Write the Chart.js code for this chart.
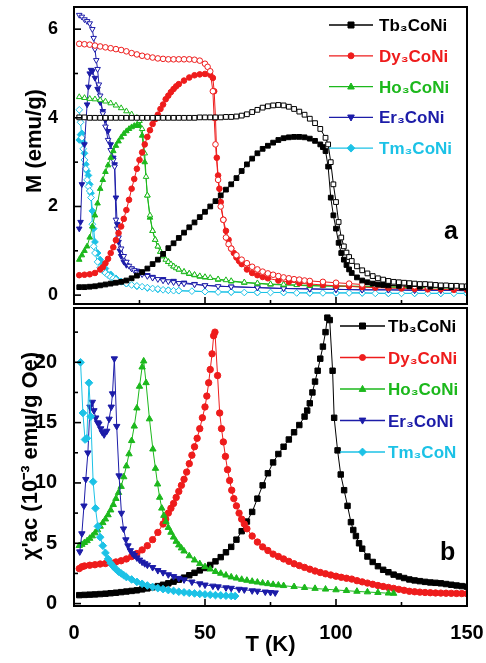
<!DOCTYPE html>
<html><head><meta charset="utf-8">
<script src="https://cdn.jsdelivr.net/npm/chart.js"></script>
<style>
html,body{margin:0;padding:0;background:#fff;}
#wrap{position:relative;width:486px;height:663px;}
#c1{position:absolute;left:0;top:0;}
#c2{position:absolute;left:0;top:300px;}
</style></head><body>
<div id="wrap"><canvas id="c1" width="486" height="310"></canvas><canvas id="c2" width="486" height="363"></canvas></div>
<script>
// ---------- DATA (T in K, value) ----------
const compounds = ['Tb₃CoNi','Dy₃CoNi','Ho₃CoNi','Er₃CoNi','Tm₃CoNi'];
const compoundsB = ['Tb₃CoNi','Dy₃CoNi','Ho₃CoNi','Er₃CoNi','Tm₃CoN'];
const xMajorTicks = [0,50,100,150];
const xMinorTicks = [25,75,125];
const yTicksM = [0,2,4,6];
const yMinorM = [1,3,5];
const yTicksChi = [0,5,10,15,20];
const yMinorChi = [2.5,7.5,12.5,17.5,22.5];

// panel a: M(T), ZFC (filled) and FC (open)
const tbZfc = [[2,0.18],[4,0.18],[6,0.19],[8,0.2],[10,0.22],[12,0.24],[14,0.26],[16,0.28],[18,0.3],[20,0.33],[22,0.38],[24,0.44],[26,0.52],[28,0.6],[30,0.7],[32,0.8],[34,0.93],[36,1.06],[38,1.17],[40,1.29],[42,1.41],[44,1.53],[46,1.64],[48,1.76],[50,1.88],[52,2.0],[54,2.12],[56,2.25],[58,2.38],[60,2.5],[62,2.64],[64,2.8],[66,2.95],[68,3.08],[70,3.2],[72,3.3],[74,3.37],[76,3.44],[78,3.5],[80,3.54],[82,3.56],[84,3.57],[86,3.57],[88,3.56],[90,3.53],[92,3.48],[94,3.4],[95,3.34],[96,3.25],[97,2.9],[98,2.2],[99,1.8],[100,1.5],[101,1.18],[102,0.95],[103,0.8],[104,0.68],[105,0.58],[106,0.5],[108,0.4],[110,0.33],[112,0.29],[114,0.26],[116,0.24],[118,0.23],[120,0.22],[124,0.21],[128,0.2],[132,0.19],[136,0.19],[140,0.18],[144,0.18],[148,0.17],[150,0.17]];
const tbFc = [[2,4.01],[4,4.01],[6,4.0],[8,4.0],[10,4.0],[12,4.0],[14,4.0],[16,4.0],[18,4.0],[20,4.0],[22,4.0],[24,4.0],[26,4.0],[28,4.0],[30,4.0],[32,4.0],[34,4.0],[36,4.0],[38,4.0],[40,4.0],[42,4.0],[44,4.0],[46,4.0],[48,4.01],[50,4.01],[52,4.01],[54,4.01],[56,4.01],[58,4.02],[60,4.02],[62,4.03],[64,4.05],[66,4.08],[68,4.13],[70,4.18],[72,4.23],[74,4.26],[76,4.28],[78,4.29],[80,4.28],[82,4.25],[84,4.2],[86,4.14],[88,4.07],[90,3.98],[92,3.88],[94,3.75],[96,3.55],[97,3.4],[98,3.0],[99,2.5],[100,2.1],[101,1.65],[102,1.3],[103,1.1],[104,0.96],[105,0.86],[106,0.77],[108,0.65],[110,0.56],[112,0.49],[114,0.43],[116,0.38],[118,0.35],[120,0.32],[122,0.3],[124,0.29],[126,0.28],[128,0.27],[130,0.26],[132,0.25],[134,0.25],[136,0.24],[138,0.23],[140,0.22],[142,0.22],[144,0.21],[146,0.21],[148,0.2],[150,0.2]];
const dyZfc = [[2,0.45],[4,0.46],[6,0.47],[8,0.5],[10,0.58],[11,0.63],[12,0.72],[13,0.82],[14,0.95],[15,1.08],[16,1.24],[17,1.4],[18,1.55],[19,1.72],[20,1.92],[21,2.15],[22,2.4],[23,2.62],[24,2.85],[25,3.05],[26,3.22],[27,3.4],[28,3.57],[29,3.72],[30,3.86],[31,3.97],[32,4.07],[33,4.2],[34,4.3],[35,4.42],[36,4.5],[37,4.58],[38,4.65],[39,4.71],[40,4.76],[42,4.84],[44,4.91],[46,4.96],[48,4.98],[50,4.99],[52,4.97],[53,4.9],[53.5,4.6],[54,4.0],[54.5,3.1],[55,2.7],[55.5,2.4],[56,2.1],[57,1.7],[58,1.45],[59,1.25],[60,1.05],[61,0.95],[62,0.85],[63,0.77],[64,0.7],[66,0.58],[68,0.5],[70,0.45],[72,0.41],[74,0.38],[78,0.33],[82,0.3],[86,0.27],[90,0.25],[95,0.23],[100,0.21],[105,0.2],[110,0.18],[115,0.17],[120,0.16],[125,0.15],[130,0.14],[135,0.13],[140,0.13],[145,0.12],[150,0.12]];
const dyFc = [[2,5.67],[4,5.66],[6,5.65],[8,5.63],[10,5.61],[12,5.59],[14,5.57],[16,5.55],[18,5.53],[20,5.5],[22,5.46],[24,5.43],[26,5.4],[28,5.38],[30,5.36],[32,5.34],[34,5.33],[36,5.32],[38,5.32],[40,5.32],[42,5.32],[44,5.32],[46,5.31],[48,5.29],[50,5.22],[51,5.15],[52,5.05],[53,4.6],[53.5,4.0],[54,3.4],[55,2.6],[56,2.0],[57,1.7],[58,1.3],[59,1.15],[60,1.05],[62,0.9],[64,0.8],[66,0.72],[68,0.64],[70,0.58],[72,0.53],[74,0.49],[76,0.46],[78,0.43],[80,0.4],[82,0.38],[84,0.36],[86,0.35],[88,0.33],[90,0.32],[95,0.3],[100,0.28],[105,0.26],[110,0.24],[115,0.23],[120,0.22],[125,0.21],[130,0.2],[135,0.19],[140,0.19],[145,0.18],[150,0.18]];
const hoZfc = [[2,0.8],[3,0.9],[4,1.0],[5,1.1],[6,1.3],[7,1.55],[8,1.8],[9,2.07],[10,2.4],[11,2.6],[12,2.78],[13,2.93],[14,3.1],[15,3.25],[16,3.37],[17,3.47],[18,3.56],[19,3.64],[20,3.7],[21,3.75],[22,3.79],[23,3.82],[24,3.84],[25,3.82],[26,3.6],[27,3.0],[28,2.25],[29,1.75],[30,1.45],[31,1.25],[32,1.1],[33,0.98],[34,0.88],[36,0.75],[38,0.65],[40,0.58],[42,0.52],[44,0.48],[46,0.45],[48,0.42],[50,0.4],[55,0.35],[60,0.31],[65,0.28],[70,0.26],[75,0.24],[80,0.23],[90,0.21],[100,0.2],[110,0.19],[120,0.18],[130,0.17],[140,0.16],[150,0.16]];
const hoFc = [[2,4.47],[4,4.45],[6,4.43],[8,4.42],[10,4.4],[12,4.37],[14,4.33],[16,4.28],[18,4.22],[20,4.15],[22,4.08],[24,4.0],[25,3.93],[26,3.75],[27,3.2],[27.5,2.67],[28,2.25],[29,1.8],[30,1.45],[31,1.25],[32,1.1],[33,0.98],[34,0.88],[35,0.8],[36,0.75],[37,0.7],[38,0.65],[39,0.61],[40,0.58],[42,0.53],[44,0.49],[46,0.46],[48,0.43],[50,0.41],[52,0.39],[55,0.36],[58,0.34],[60,0.32],[65,0.29],[70,0.27],[75,0.25],[80,0.24],[85,0.23],[90,0.22],[95,0.21],[100,0.21],[110,0.2],[120,0.19],[130,0.18],[140,0.17],[150,0.17]];
const erZfc = [[2,1.5],[2.5,1.65],[3,2.5],[4,3.4],[5,4.3],[5.5,4.7],[6,5.0],[6.5,5.08],[7,5.05],[8,4.9],[9,4.65],[10,4.35],[11,4.15],[12,3.95],[13,3.7],[14,3.4],[15,3.1],[15.5,2.95],[16,2.2],[16.5,1.6],[17,1.2],[17.5,1.0],[18,0.88],[19,0.75],[20,0.68],[22,0.6],[24,0.55],[26,0.5],[28,0.45],[30,0.41],[34,0.36],[38,0.32],[42,0.28],[46,0.25],[50,0.22],[60,0.19],[70,0.17],[80,0.15],[90,0.14],[100,0.13],[110,0.12],[120,0.12],[130,0.11],[140,0.11],[150,0.1]];
const erFc = [[2,6.32],[3,6.28],[4,6.22],[5,6.18],[6,6.13],[7,6.0],[7.5,5.8],[8,5.55],[8.5,5.3],[9,5.1],[9.5,4.75],[10,4.5],[11,4.1],[12,3.8],[13,3.5],[14,3.27],[15,3.05],[15.5,2.9],[16,1.7],[16.5,1.5],[17,1.3],[18,1.05],[19,0.88],[20,0.75],[21,0.66],[22,0.6],[23,0.56],[24,0.52],[25,0.49],[26,0.47],[28,0.43],[30,0.39],[32,0.36],[34,0.33],[36,0.31],[38,0.29],[40,0.27],[42,0.26],[46,0.24],[50,0.22],[55,0.2],[60,0.19],[70,0.17],[80,0.15],[90,0.14],[100,0.13],[110,0.12],[120,0.12],[130,0.11],[140,0.11],[150,0.1]];
const tmZfc = [[2,3.5],[2.5,3.62],[3,3.65],[3.5,3.45],[4,3.2],[4.5,2.95],[5,2.8],[5.5,2.7],[6,2.5],[6.5,2.3],[7,1.9],[7.5,1.5],[8,1.2],[9,0.95],[10,0.8],[11,0.7],[12,0.6],[14,0.47],[16,0.38],[18,0.31],[20,0.26],[24,0.2],[28,0.16],[32,0.13],[36,0.11],[40,0.1],[50,0.08],[60,0.07],[70,0.06],[80,0.06],[90,0.05],[100,0.05],[110,0.05],[120,0.04],[130,0.04],[140,0.04],[150,0.04]];
const tmFc = [[2,4.18],[2.5,3.9],[3,3.55],[3.5,3.3],[4,3.05],[4.5,2.85],[5,2.6],[5.5,2.45],[6,2.35],[6.5,2.2],[7,1.6],[7.5,1.1],[8,0.95],[9,0.75],[10,0.62],[11,0.55],[12,0.5],[13,0.45],[14,0.41],[15,0.38],[16,0.35],[18,0.3],[20,0.26],[22,0.23],[24,0.21],[26,0.19],[28,0.17],[30,0.15],[32,0.14],[34,0.12],[36,0.11],[38,0.1],[40,0.1],[45,0.09],[50,0.08],[55,0.07],[60,0.07],[65,0.06],[70,0.06],[75,0.06],[80,0.06],[85,0.05],[90,0.05],[95,0.05],[100,0.05],[105,0.05],[110,0.05],[115,0.04],[120,0.04],[125,0.04],[130,0.04],[135,0.04],[140,0.04],[145,0.04],[150,0.04]];

// panel b: chi'ac (1e-3 emu/g Oe)
const tbAc = [[2,0.7],[4,0.72],[6,0.74],[8,0.76],[10,0.79],[12,0.82],[14,0.86],[16,0.9],[18,0.95],[20,1.0],[22,1.05],[24,1.1],[26,1.18],[28,1.26],[30,1.35],[32,1.45],[34,1.56],[36,1.68],[38,1.82],[40,1.98],[42,2.15],[44,2.35],[46,2.55],[48,2.75],[50,2.95],[52,3.2],[54,3.5],[56,3.85],[58,4.25],[60,4.7],[62,5.3],[64,6.0],[66,6.8],[68,7.6],[70,8.7],[72,9.8],[74,10.8],[76,11.7],[78,12.4],[80,13.0],[82,13.6],[84,14.2],[86,14.8],[88,15.5],[89,16.0],[90,16.6],[91,17.5],[92,18.4],[93,19.3],[94,20.3],[95,21.3],[96,22.5],[96.7,23.7],[97.6,23.5],[98.7,19.3],[99.3,15.4],[100.6,12.7],[101.8,10.7],[103.1,9.4],[104.4,8.1],[105.7,6.75],[106.6,6.1],[107.6,5.6],[108.8,5.0],[110,4.55],[112,3.9],[114,3.45],[116,3.1],[118,2.8],[120,2.6],[122,2.4],[124,2.25],[126,2.12],[128,2.0],[130,1.92],[132,1.86],[134,1.8],[136,1.75],[138,1.72],[140,1.68],[142,1.62],[144,1.56],[146,1.5],[148,1.45],[150,1.4]];
const dyAc = [[2,2.9],[3,3.05],[4,3.12],[6,3.18],[8,3.22],[10,3.28],[12,3.32],[14,3.38],[16,3.45],[18,3.55],[20,3.7],[22,3.9],[24,4.15],[26,4.45],[28,4.8],[30,5.3],[32,5.9],[34,6.6],[35,7.0],[36,7.5],[37,7.9],[38,8.3],[39,8.8],[40,9.3],[41,9.8],[42,10.3],[43,10.9],[44,11.6],[45,12.3],[46,13.0],[47,13.7],[48,14.5],[49,15.4],[50,16.3],[50.7,17.2],[51.4,18.3],[52,19.4],[52.7,20.7],[53.3,22.2],[53.8,22.5],[54.8,18.9],[55.6,15.8],[56.3,14.5],[57,13.4],[57.8,12.2],[58.6,11.1],[59.4,10.2],[60.2,9.4],[61,8.7],[62,8.1],[63,7.5],[64,7.0],[65,6.6],[66,6.2],[68,5.6],[70,5.1],[72,4.7],[74,4.4],[76,4.1],[78,3.9],[80,3.7],[82,3.5],[84,3.3],[86,3.15],[88,3.0],[90,2.85],[92,2.7],[94,2.58],[96,2.47],[98,2.37],[100,2.27],[102,2.18],[104,2.1],[106,2.03],[108,1.9],[110,1.8],[112,1.7],[114,1.6],[116,1.5],[118,1.42],[120,1.34],[122,1.26],[124,1.18],[126,1.1],[128,1.02],[130,0.98],[132,0.95],[134,0.92],[136,0.9],[138,0.88],[140,0.87],[142,0.86],[144,0.85],[146,0.84],[148,0.83],[150,0.82]];
const hoAc = [[2,4.8],[3,4.9],[4,5.05],[5,5.2],[6,5.4],[7,5.6],[8,5.85],[9,6.1],[10,6.4],[11,6.7],[12,7.0],[13,7.35],[14,7.75],[15,8.2],[16,8.7],[17,9.2],[18,9.7],[19,10.5],[20,11.4],[21,12.4],[22,13.5],[23,14.7],[24,16.2],[25,18.0],[26,19.6],[26.6,20.1],[27.5,18.3],[28.8,15.3],[30.1,12.8],[31.1,11.2],[31.9,9.9],[32.7,8.8],[33.5,7.9],[34.3,7.3],[35.1,6.8],[36,6.3],[37,5.9],[38,5.5],[39,5.15],[40,4.85],[41,4.6],[42,4.35],[44,3.95],[46,3.6],[48,3.3],[50,3.05],[52,2.85],[54,2.65],[56,2.5],[58,2.35],[60,2.2],[62,2.1],[64,2.0],[66,1.92],[68,1.84],[70,1.77],[72,1.7],[74,1.64],[76,1.58],[78,1.53],[80,1.48],[84,1.4],[88,1.32],[92,1.25],[96,1.19],[100,1.13],[104,1.07],[108,1.01],[112,0.96],[116,0.91],[120,0.86],[122,0.84]];
const erAc = [[2.2,4.3],[3,5.8],[3.8,8.1],[4.5,10.3],[5.3,12.5],[6.1,16.3],[7,16.7],[7.6,16.0],[8.3,15.4],[9,15.0],[9.5,14.9],[10.2,14.5],[10.8,14.2],[11.5,14.0],[12.5,14.3],[13.4,15.3],[14.2,16.3],[14.7,17.4],[15.4,20.3],[16.3,14.7],[17.2,10.6],[18.1,7.5],[18.9,6.2],[19.8,5.3],[20.6,4.8],[21.5,4.4],[22.3,4.15],[23,4.0],[24,3.8],[25,3.62],[26,3.45],[27,3.32],[28,3.2],[30,3.0],[32,2.75],[34,2.58],[36,2.4],[38,2.25],[40,2.1],[42,1.98],[45,1.8],[48,1.65],[50,1.55],[53,1.46],[55,1.4],[58,1.32],[60,1.28],[63,1.2],[65,1.15],[68,1.07],[70,1.04],[73,0.97],[75,0.93],[76.8,0.9]];
const tmAc = [[2.5,20.0],[3.4,15.8],[4.2,13.6],[4.9,13.7],[5.7,18.3],[6.4,15.5],[7.3,10.1],[8.2,7.9],[9.1,6.4],[10,5.5],[11,4.8],[12,4.2],[13,3.7],[14,3.35],[15,3.08],[16,2.85],[17,2.65],[18,2.5],[19,2.35],[20,2.2],[22,2.0],[24,1.8],[26,1.64],[28,1.5],[30,1.38],[32,1.28],[34,1.2],[36,1.12],[38,1.05],[40,0.98],[42,0.93],[44,0.88],[46,0.84],[48,0.8],[50,0.76],[52,0.73],[54,0.7],[56,0.68],[58,0.65],[60,0.63],[61.5,0.62]];

// ---------- STYLE ----------
const FONT = "'Liberation Sans', Arial, sans-serif";
const col = {tb:'#000000', dy:'#ee1c1c', ho:'#1cb81c', er:'#1c1ca8', tm:'#1cc2e6'};
const styles = [
  {c:col.tb, s:'rect', rot:0},
  {c:col.dy, s:'circle', rot:0},
  {c:col.ho, s:'triangle', rot:0},
  {c:col.er, s:'triangle', rot:180},
  {c:col.tm, s:'rectRot', rot:0}
];
function ds(pairs, st, filled, r){
  return {
    data: pairs.map(p => ({x:p[0], y:p[1]})),
    borderColor: st.c, backgroundColor: st.c, borderWidth: 1,
    pointStyle: st.s, pointRotation: st.rot,
    pointRadius: st.s === 'rect' || st.s === 'rectRot' ? r*1.2 : (st.s==='triangle'? r*1.15 : r),
    pointBackgroundColor: filled ? st.c : '#ffffff',
    pointBorderColor: st.c, pointBorderWidth: 1,
    tension: 0, fill: false
  };
}

function drawMarker(ctx, st, x, y, r){
  ctx.save();
  ctx.fillStyle = st.c; ctx.strokeStyle = st.c; ctx.lineWidth = 1;
  ctx.beginPath();
  if (st.s === 'rect') { ctx.rect(x-r, y-r, 2*r, 2*r); }
  else if (st.s === 'circle') { ctx.arc(x, y, r, 0, Math.PI*2); }
  else if (st.s === 'rectRot') { ctx.moveTo(x, y-r*1.3); ctx.lineTo(x+r*1.3, y); ctx.lineTo(x, y+r*1.3); ctx.lineTo(x-r*1.3, y); ctx.closePath(); }
  else if (st.s === 'triangle') {
    const d = st.rot ? -1 : 1;
    ctx.moveTo(x, y - d*r*1.2); ctx.lineTo(x + r*1.1, y + d*r*0.8); ctx.lineTo(x - r*1.1, y + d*r*0.8); ctx.closePath();
  }
  ctx.fill(); ctx.stroke();
  ctx.restore();
}

const deco = {
  id: 'deco',
  afterDraw(chart, args, o) {
    const {ctx, chartArea: a} = chart;
    const x = chart.scales.x, y = chart.scales.y;
    ctx.save();
    ctx.strokeStyle = '#000';
    const seg = (x1,y1,x2,y2) => {ctx.beginPath(); ctx.moveTo(x1,y1); ctx.lineTo(x2,y2); ctx.stroke();};
    ctx.lineWidth = 1.6;
    xMajorTicks.forEach(v => {const p = x.getPixelForValue(v); seg(p, a.bottom, p, a.bottom-7);});
    xMinorTicks.forEach(v => {const p = x.getPixelForValue(v); seg(p, a.bottom, p, a.bottom-4);});
    o.yMajor.forEach(v => {const p = y.getPixelForValue(v); seg(a.left, p, a.left+7, p);});
    o.yMinor.forEach(v => {const p = y.getPixelForValue(v); seg(a.left, p, a.left+4, p);});
    ctx.lineWidth = 2;
    ctx.strokeRect(a.left, a.top, a.right-a.left, a.bottom-a.top);
    // legend
    o.names.forEach((name, i) => {
      const st = styles[i];
      const yy = o.legY + i*o.legDy;
      ctx.strokeStyle = st.c; ctx.lineWidth = 1.3;
      seg(o.legX1, yy, o.legX2, yy);
      drawMarker(ctx, st, (o.legX1+o.legX2)/2, yy, 3);
      ctx.fillStyle = st.c;
      ctx.font = 'bold 17px ' + FONT;
      ctx.textAlign = 'left'; ctx.textBaseline = 'alphabetic';
      ctx.fillText(name, o.legTx, yy + 6);
    });
    // panel letter
    ctx.fillStyle = '#000';
    ctx.font = 'bold 25px ' + FONT;
    ctx.textAlign = 'left'; ctx.textBaseline = 'alphabetic';
    ctx.fillText(o.letter, o.letX, o.letY);
    // y title
    ctx.save();
    ctx.translate(o.yTitleX, o.yTitleY);
    ctx.rotate(-Math.PI/2);
    ctx.font = 'bold 22px ' + FONT;
    ctx.textAlign = 'center'; ctx.textBaseline = 'middle';
    ctx.fillText(o.yTitle, 0, 0);
    ctx.restore();
    ctx.restore();
  }
};

const baseFont = (s) => ({family: FONT, size: s, weight: 'bold'});
const fitY = s => { s.width = 74; s.paddingTop = 0; s.paddingBottom = 0; };

// ---------- PANEL a ----------
new Chart(document.getElementById('c1'), {
  type: 'line',
  data: { datasets: [
    ds(tbFc, styles[0], false, 2.8), ds(tbZfc, styles[0], true, 2.8),
    ds(dyFc, styles[1], false, 2.8), ds(dyZfc, styles[1], true, 2.8),
    ds(hoFc, styles[2], false, 2.8), ds(hoZfc, styles[2], true, 2.8),
    ds(erFc, styles[3], false, 2.8), ds(erZfc, styles[3], true, 2.8),
    ds(tmFc, styles[4], false, 2.8), ds(tmZfc, styles[4], true, 2.8)
  ]},
  options: {
    responsive: false, animation: false, devicePixelRatio: 1,
    layout: {padding: {left: 0, right: 19, top: 7, bottom: 0}},
    plugins: {legend: {display: false}, tooltip: {enabled: false},
      deco: {yMajor: yTicksM, yMinor: yMinorM, names: compounds,
        legX1: 329, legX2: 373, legTx: 379, legY: 25, legDy: 30.8,
        letter: 'a', letX: 444, letY: 239,
        yTitle: 'M (emu/g)', yTitleX: 35, yTitleY: 141}},
    scales: {
      x: {type: 'linear', min: 0, max: 150,
        ticks: {display: false}, grid: {display: false}, border: {display: false},
        afterFit: s => { s.height = 6; s.paddingLeft = 0; s.paddingRight = 0; }},
      y: {type: 'linear', min: -0.2, max: 6.5,
        afterBuildTicks: s => { s.ticks = yTicksM.map(v => ({value: v})); },
        ticks: {font: baseFont(18), color: '#000', padding: 8},
        grid: {display: false}, border: {display: false},
        afterFit: fitY}
    }
  },
  plugins: [deco]
});

// ---------- PANEL b ----------
new Chart(document.getElementById('c2'), {
  type: 'line',
  data: { datasets: [
    ds(tmAc, styles[4], true, 3.2),
    ds(erAc, styles[3], true, 3.2),
    ds(hoAc, styles[2], true, 3.2),
    ds(dyAc, styles[1], true, 3.2),
    ds(tbAc, styles[0], true, 3.2)
  ]},
  options: {
    responsive: false, animation: false, devicePixelRatio: 1,
    layout: {padding: {left: 0, right: 19, top: 8, bottom: 0}},
    plugins: {legend: {display: false}, tooltip: {enabled: false},
      deco: {yMajor: yTicksChi, yMinor: yMinorChi, names: compoundsB,
        legX1: 340, legX2: 385, legTx: 388, legY: 26, legDy: 31.5,
        letter: 'b', letX: 440, letY: 260,
        yTitle: 'χ\'ac (10⁻³ emu/g Oe)', yTitleX: 31, yTitleY: 156}},
    scales: {
      x: {type: 'linear', min: 0, max: 150,
        afterBuildTicks: s => { s.ticks = xMajorTicks.map(v => ({value: v})); },
        ticks: {font: baseFont(20), color: '#000', padding: 7, maxRotation: 0},
        grid: {display: false}, border: {display: false},
        title: {display: true, text: 'T (K)', font: baseFont(22), color: '#000', padding: {top: 0, bottom: 5}},
        afterFit: s => { s.height = 57; s.paddingLeft = 0; s.paddingRight = 0; }},
      y: {type: 'linear', min: -0.2, max: 24.5,
        afterBuildTicks: s => { s.ticks = yTicksChi.map(v => ({value: v})); },
        ticks: {font: baseFont(20), color: '#000', padding: 9},
        grid: {display: false}, border: {display: false},
        afterFit: fitY}
    }
  },
  plugins: [deco]
});
</script>
</body></html>
